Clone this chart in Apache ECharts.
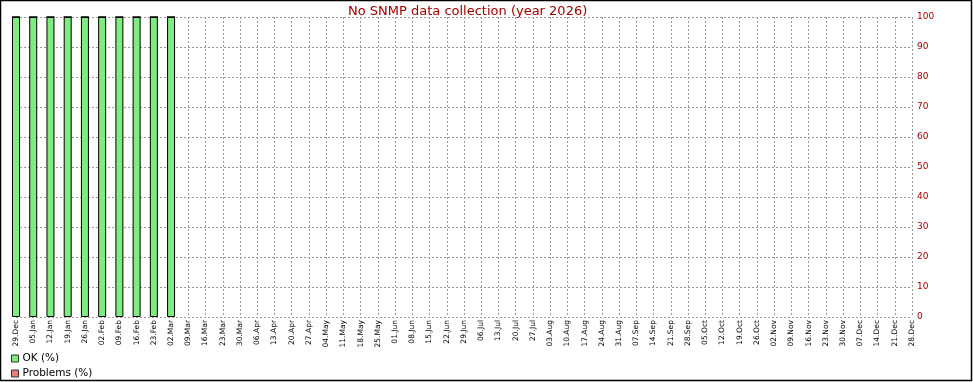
<!DOCTYPE html>
<html>
<head>
<meta charset="utf-8">
<script src="https://cdn.jsdelivr.net/npm/echarts@6/dist/echarts.min.js"></script>
<style>
html,body{margin:0;padding:0;background:#fff;}
#c{width:973px;height:382px;}
</style>
</head>
<body>
<div id="c"></div>
<script>
const categories = ['29.Dec','05.Jan','12.Jan','19.Jan','26.Jan','02.Feb','09.Feb','16.Feb','23.Feb','02.Mar','09.Mar','16.Mar','23.Mar','30.Mar','06.Apr','13.Apr','20.Apr','27.Apr','04.May','11.May','18.May','25.May','01.Jun','08.Jun','15.Jun','22.Jun','29.Jun','06.Jul','13.Jul','20.Jul','27.Jul','03.Aug','10.Aug','17.Aug','24.Aug','31.Aug','07.Sep','14.Sep','21.Sep','28.Sep','05.Oct','12.Oct','19.Oct','26.Oct','02.Nov','09.Nov','16.Nov','23.Nov','30.Nov','07.Dec','14.Dec','21.Dec','28.Dec'];
const okValues = [100,100,100,100,100,100,100,100,100,100,null,null,null,null,null,null,null,null,null,null,null,null,null,null,null,null,null,null,null,null,null,null,null,null,null,null,null,null,null,null,null,null,null,null,null,null,null,null,null,null,null,null,null];
const problemValues = [0,0,0,0,0,0,0,0,0,0,null,null,null,null,null,null,null,null,null,null,null,null,null,null,null,null,null,null,null,null,null,null,null,null,null,null,null,null,null,null,null,null,null,null,null,null,null,null,null,null,null,null,null];
const yTicks = [0,10,20,30,40,50,60,70,80,90,100];
const titleText = 'No SNMP data collection (year 2026)';

const chart = echarts.init(document.getElementById('c'), null, {renderer:'canvas'});
const font = 'DejaVu Sans';
const legendText = {fontSize:10.5,color:'#000',fontFamily:font,padding:[0,0,0,-1]};
chart.setOption({
  animation:false,
  backgroundColor:'#ffffff',
  textStyle:{fontFamily:font},
  title:{text:titleText,left:343,top:0,
    textStyle:{color:'#a00000',fontSize:13,fontWeight:'normal',fontFamily:font}},
  graphic:[{type:'rect',shape:{x:0.5,y:0.5,width:971,height:380},
    style:{fill:null,stroke:'#000',lineWidth:1.5},silent:true,z:100}],
  legend:[
    {orient:'vertical',left:11,top:353,padding:0,itemWidth:7,itemHeight:7,icon:'rect',itemGap:5,
     itemStyle:{borderColor:'#333',borderWidth:1},
     textStyle:legendText,data:['OK (%)']},
    {orient:'vertical',left:11,top:368,padding:0,itemWidth:7,itemHeight:7,icon:'rect',itemGap:5,
     itemStyle:{borderColor:'#333',borderWidth:1},
     textStyle:legendText,data:['Problems (%)']}
  ],
  grid:{left:16,right:61,top:17,bottom:65,containLabel:false},
  xAxis:{type:'category',data:categories,boundaryGap:false,
    axisLine:{show:false},axisTick:{show:false},
    axisLabel:{rotate:90,interval:0,fontSize:7.5,color:'#000',margin:3,fontFamily:font},
    splitLine:{show:true,interval:0,lineStyle:{color:'#999',type:[2,2],width:1}}},
  yAxis:{type:'value',position:'right',min:0,max:100,interval:10,
    axisLine:{show:false},axisTick:{show:false},
    axisLabel:{color:'#a00000',fontSize:9,margin:5,fontFamily:font,
      formatter:v=>yTicks.includes(v)?String(v):''},
    splitLine:{show:true,lineStyle:{color:'#999',type:[2,2],width:1}}},
  series:[
    {name:'OK (%)',type:'bar',stack:'s',data:okValues,barWidth:8,
     itemStyle:{color:'#7eec7e',borderColor:'#000',borderWidth:1}},
    {name:'Problems (%)',type:'bar',stack:'s',data:problemValues,barWidth:8,
     itemStyle:{color:'#ec7e7e',borderColor:'#000',borderWidth:1}}
  ]
});
</script>
</body>
</html>
